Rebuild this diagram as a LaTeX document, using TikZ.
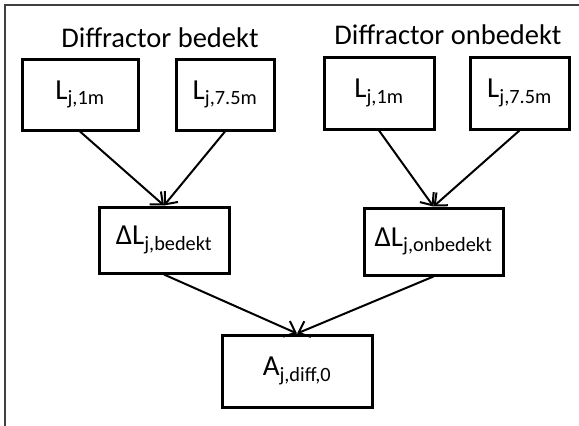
\documentclass[tikz,border=0pt]{standalone}
\usepackage{fontspec}
\setmainfont{Carlito}
\usepackage{tikz}
\usetikzlibrary{arrows.meta,positioning}
\definecolor{framegrey}{RGB}{64,64,64}

\begin{document}
\begin{tikzpicture}[x=1pt, y=-1pt,
    flowbox/.style={rectangle, draw=black, line width=3pt, fill=white,
        inner sep=0pt, font=\fontsize{29}{34}\selectfont},
    flowarr/.style={-{Straight Barb[length=10pt, width=17pt, line width=2pt]}, line width=2pt, black},
    grouptitle/.style={font=\fontsize{28.5}{34}\selectfont, inner sep=0pt}
]
    \useasboundingbox (0,0) rectangle (579,426);
    \draw[framegrey, line width=2.5pt] (5,5) rectangle (600,450);

    % covered diffractor
    \node[grouptitle] (tcov) at (160,38) {Diffractor bedekt};
    \node[flowbox, minimum width=116pt, minimum height=71pt] (cov1) at (80,94.5) {L\textsubscript{j,1m}};
    \node[flowbox, minimum width=98pt, minimum height=71pt, right=35pt of cov1] (cov75) {L\textsubscript{j,7.5m}};

    % uncovered diffractor
    \node[grouptitle] (tunc) at (448,35) {Diffractor onbedekt};
    \node[flowbox, minimum width=110pt, minimum height=72pt] (unc1) at (379,93) {L\textsubscript{j,1m}};
    \node[flowbox, minimum width=99pt, minimum height=72pt, right=33pt of unc1] (unc75) {L\textsubscript{j,7.5m}};

    % differences and result
    \node[flowbox, minimum width=130pt, minimum height=66pt] (dcov) at (164,240) {ΔL\textsubscript{j,bedekt}};
    \node[flowbox, minimum width=139pt, minimum height=67pt] (dunc) at (433.5,241.5) {ΔL\textsubscript{j,onbedekt}};
    \node[flowbox, minimum width=150pt, minimum height=72pt] (adiff) at (297,371) {A\textsubscript{j,diff,0}};

    \draw[flowarr] (cov1.south) -- (dcov.north);
    \draw[flowarr] (cov75.south) -- (dcov.north);
    \draw[flowarr] (unc1.south) -- (dunc.north);
    \draw[flowarr] (unc75.south) -- (dunc.north);
    \draw[flowarr] (dcov.south) -- (adiff.north);
    \draw[flowarr] (dunc.south) -- (adiff.north);
\end{tikzpicture}
\end{document}
